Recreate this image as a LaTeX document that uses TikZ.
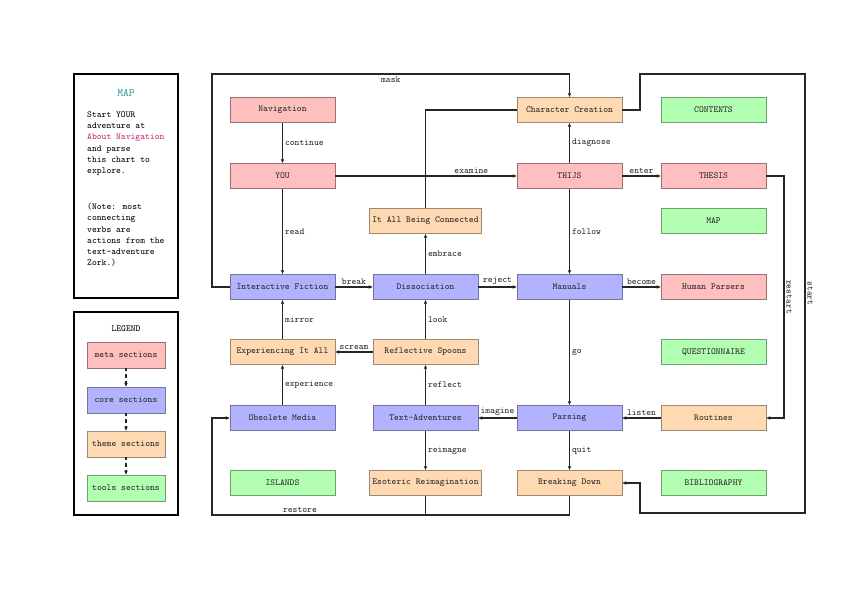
\documentclass[tikz,border=0pt]{standalone}
\usetikzlibrary{arrows.meta}
\definecolor{linkc}{RGB}{200,40,120}
\definecolor{mapc}{RGB}{30,150,150}
\begin{document}
\begin{tikzpicture}[x=0.979pt,y=-0.979pt,
  font=\fontsize{9}{11}\selectfont\ttfamily,
  box/.style={draw, minimum width=102.8pt, minimum height=25pt, inner xsep=3pt, line width=0.6pt, text=black!85},
  meta/.style={box, fill=red!25, draw=red!25!black!55},
  core/.style={box, fill=blue!30, draw=blue!30!black!55},
  theme/.style={box, fill=orange!30, draw=orange!30!black!55},
  tools/.style={box, fill=green!30, draw=green!30!black!55},
  legbox/.style={minimum width=76.4pt, minimum height=25.5pt},
  link/.style={line width=1pt, draw=black!85, -{Stealth[length=4pt,width=3.5pt]}},
  plain/.style={line width=1pt, draw=black!85},
  lbl/.style={inner sep=2pt, text=black!85},
  rlbl/.style={inner sep=2pt, anchor=south, rotate=-90, text=black!85},
  frame/.style={line width=1.1pt},
]
\useasboundingbox (0,0) rectangle (860,608);

% side panels
\draw[frame] (74,74) rectangle (178,298);
\node[text=mapc, font=\fontsize{11}{13}\selectfont\ttfamily] (maptitle) at (126,93) {MAP};
\node[anchor=north west, align=left, inner sep=0, font=\fontsize{9}{10.8}\selectfont\ttfamily] (maptext) at (87,112)
  {Start YOUR\\adventure at\\\textcolor{linkc}{About Navigation}\\and parse\\this chart to\\explore.};
\node[anchor=north west, align=left, inner sep=0, font=\fontsize{9}{11}\selectfont\ttfamily] (mapnote) at (87,203)
  {(Note: most\\connecting\\verbs are\\actions from the\\text-adventure\\Zork.)};

\draw[frame] (74,312) rectangle (178,515);
\node (legt) at (126,329) {LEGEND};
\node[meta, legbox] (L1) at (126,355) {meta sections};
\node[core, legbox] (L2) at (126,400) {core sections};
\node[theme, legbox] (L3) at (126,444) {theme sections};
\node[tools, legbox] (L4) at (126,488) {tools sections};
\draw[link, dashed] (L1) -- (L2);
\draw[link, dashed] (L2) -- (L3);
\draw[link, dashed] (L3) -- (L4);

% main nodes
\node[meta]  (NAV) at (282.5,110) {Navigation};
\node[meta]  (YOU) at (282.5,176) {YOU};
\node[core]  (IF)  at (282.5,287) {Interactive Fiction};
\node[theme] (EXP) at (282.5,352) {Experiencing It All};
\node[core]  (OM)  at (282.5,418) {Obsolete Media};
\node[tools] (ISL) at (282.5,483) {ISLANDS};

\node[theme] (IC)  at (425.5,221) {It All Being Connected};
\node[core]  (DIS) at (425.5,287) {Dissociation};
\node[theme] (RS)  at (425.5,352) {Reflective Spoons};
\node[core]  (TA)  at (425.5,418) {Text-Adventures};
\node[theme] (ER)  at (425.5,483) {Esoteric Reimagination};

\node[theme] (CC)  at (569.5,110) {Character Creation};
\node[meta]  (TJ)  at (569.5,176) {THIJS};
\node[core]  (MAN) at (569.5,287) {Manuals};
\node[core]  (PAR) at (569.5,418) {Parsing};
\node[theme] (BD)  at (569.5,483) {Breaking Down};

\node[tools] (CON) at (713.5,110) {CONTENTS};
\node[meta]  (TH)  at (713.5,176) {THESIS};
\node[tools] (MAP) at (713.5,221) {MAP};
\node[meta]  (HP)  at (713.5,287) {Human Parsers};
\node[tools] (QU)  at (713.5,352) {QUESTIONNAIRE};
\node[theme] (RT)  at (713.5,418) {Routines};
\node[tools] (BIB) at (713.5,483) {BIBLIOGRAPHY};

% coordinates for routed connectors
\coordinate (mL) at (212,74);
\coordinate (bL) at (212,515);
\coordinate (sA) at (640,74);
\coordinate (sB) at (805,513);
\coordinate (rB) at (784,418);

% straight connectors
\draw[link] (NAV) -- node[midway, right, lbl] {continue} (YOU);
\draw[link] (YOU) -- node[midway, right, lbl] {read} (IF);
\draw[link] (YOU) -- node[pos=0.75, above, lbl] {examine} (TJ);
\draw[link] (TJ) -- node[midway, right, lbl] {diagnose} (CC);
\draw[link] (TJ) -- node[midway, above, lbl] {enter} (TH);
\draw[link] (TJ) -- node[midway, right, lbl] {follow} (MAN);
\draw[link] (IF) -- node[midway, above, lbl] {break} (DIS);
\draw[link] (DIS) -- node[midway, above, lbl] {reject} (MAN);
\draw[link] (DIS) -- node[midway, right, lbl] {embrace} (IC);
\draw[link] (MAN) -- node[midway, above, lbl] {become} (HP);
\draw[link] (MAN) -- node[midway, right, lbl] {go} (PAR);
\draw[link] (RS) -- node[midway, right, lbl] {look} (DIS);
\draw[link] (RS) -- node[midway, above, lbl] {scream} (EXP);
\draw[link] (EXP) -- node[midway, right, lbl] {mirror} (IF);
\draw[link] (OM) -- node[midway, right, lbl] {experience} (EXP);
\draw[link] (TA) -- node[midway, right, lbl] {reflect} (RS);
\draw[link] (PAR) -- node[midway, above, lbl] {imagine} (TA);
\draw[link] (RT) -- node[midway, above, lbl] {listen} (PAR);
\draw[link] (TA) -- node[midway, right, lbl] {reimagne} (ER);
\draw[link] (PAR) -- node[midway, right, lbl] {quit} (BD);

% routed connectors
\draw[plain] (IC.north) |- (CC.west);
\draw[link] (IF.west) -| (mL) -- node[midway, below, lbl] {mask} (mL -| CC) -- (CC.north);
\draw[link] (BD.south) |- node[pos=0.877, above, lbl] {restore} (bL) |- (OM.west);
\draw[plain] (ER.south) -- (ER.south |- bL);
\draw[link] (CC.east) -| (sA) -| node[pos=0.75, rlbl] {start} (sB) -- (sB -| sA) |- (BD.east);
\draw[link] (TH.east) -| node[pos=0.75, rlbl] {restart} (rB) -- (RT.east);
\end{tikzpicture}
\end{document}
